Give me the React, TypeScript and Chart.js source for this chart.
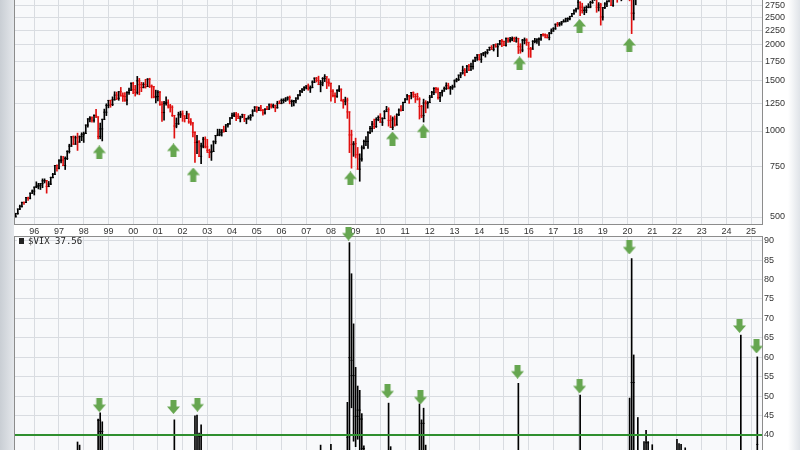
import React, { useEffect, useRef } from 'react';
import { Chart, registerables } from 'chart.js';

Chart.register(...registerables);

// ---------- DATA ----------
// S&P 500 monthly bars, first bar = April 1995
const priceStartYear = 1995;
const priceStartMonth = 3; // 0-based (April)
const priceFirstOpen = 500.7;

const priceHigh = [
  515, 533, 551, 564, 565, 586, 587, 608, 622,
  637, 664, 656, 656, 680, 680, 672, 666, 690, 711, 758, 761,
  794, 817, 815, 812, 853, 899, 957, 961, 960, 983, 961, 986,
  992, 1050, 1105, 1124, 1122, 1139, 1190, 1121, 1066, 1100, 1193, 1245,
  1280, 1282, 1317, 1372, 1368, 1374, 1421, 1360, 1362, 1373, 1414, 1474,
  1479, 1445, 1553, 1528, 1481, 1477, 1517, 1526, 1530, 1450, 1432, 1390,
  1384, 1376, 1268, 1269, 1316, 1286, 1240, 1226, 1134, 1111, 1164, 1173,
  1176, 1131, 1173, 1147, 1106, 1070, 994, 965, 925, 907, 951, 954,
  935, 864, 895, 924, 965, 1015, 1015, 1011, 1040, 1054, 1063, 1112,
  1155, 1159, 1163, 1151, 1128, 1146, 1141, 1109, 1131, 1143, 1188, 1218,
  1217, 1212, 1229, 1192, 1199, 1219, 1246, 1245, 1243, 1233, 1271, 1276,
  1295, 1297, 1310, 1318, 1326, 1284, 1280, 1307, 1340, 1389, 1407, 1431,
  1441, 1461, 1439, 1499, 1535, 1541, 1556, 1503, 1539, 1576, 1546, 1523,
  1471, 1396, 1359, 1397, 1441, 1404, 1292, 1314, 1305, 1167, 1007, 919,
  944, 876, 832, 888, 930, 956, 996, 1039, 1080, 1101, 1113, 1130,
  1150, 1113, 1180, 1220, 1206, 1132, 1120, 1130, 1149, 1196, 1228, 1263,
  1302, 1344, 1333, 1364, 1371, 1346, 1356, 1308, 1230, 1293, 1277, 1269,
  1333, 1378, 1419, 1422, 1415, 1364, 1392, 1426, 1475, 1470, 1434, 1448,
  1510, 1530, 1570, 1598, 1687, 1655, 1698, 1710, 1730, 1776, 1813, 1849,
  1851, 1867, 1884, 1898, 1925, 1968, 1991, 2005, 2019, 2018, 2076, 2094,
  2065, 2120, 2117, 2126, 2135, 2130, 2133, 2113, 2021, 2094, 2117, 2104,
  2038, 1963, 2073, 2111, 2103, 2121, 2178, 2194, 2187, 2170, 2214, 2278,
  2301, 2371, 2401, 2398, 2418, 2454, 2484, 2491, 2519, 2582, 2657, 2695,
  2873, 2835, 2801, 2718, 2742, 2791, 2848, 2916, 2941, 2940, 2815, 2800,
  2708, 2813, 2860, 2949, 2955, 2965, 3028, 3014, 3022, 3050, 3154, 3248,
  3337, 3394, 3136, 2955, 3068,
];

const priceLow = [
  500, 511, 530, 541, 553, 561, 572, 579, 605,
  597, 633, 627, 624, 633, 658, 606, 638, 649, 685, 703, 723,
  737, 773, 756, 733, 794, 837, 883, 897, 898, 855, 913, 925,
  912, 980, 1032, 1076, 1074, 1074, 1114, 939, 939, 923, 1096, 1132,
  1205, 1211, 1226, 1282, 1287, 1281, 1325, 1268, 1268, 1233, 1343, 1387,
  1350, 1325, 1346, 1339, 1373, 1415, 1413, 1430, 1419, 1305, 1306, 1254,
  1274, 1228, 1081, 1091, 1232, 1203, 1165, 1124, 944, 1026, 1054, 1114,
  1081, 1075, 1106, 1064, 1049, 953, 776, 833, 815, 768, 873, 872,
  840, 806, 789, 847, 902, 963, 962, 960, 990, 996, 1031, 1056,
  1105, 1122, 1087, 1107, 1076, 1114, 1078, 1060, 1100, 1090, 1128, 1173,
  1163, 1180, 1176, 1136, 1146, 1188, 1191, 1201, 1205, 1168, 1201, 1245,
  1245, 1253, 1268, 1281, 1245, 1219, 1224, 1253, 1290, 1327, 1361, 1385,
  1403, 1389, 1364, 1416, 1476, 1484, 1452, 1371, 1439, 1489, 1407, 1435,
  1271, 1317, 1257, 1311, 1373, 1272, 1201, 1234, 1107, 840, 741, 815,
  805, 735, 667, 784, 866, 889, 869, 978, 992, 1020, 1029, 1086,
  1071, 1045, 1105, 1170, 1040, 1028, 1011, 1040, 1049, 1132, 1174, 1186,
  1257, 1290, 1249, 1295, 1311, 1258, 1283, 1101, 1114, 1075, 1158, 1202,
  1258, 1312, 1341, 1358, 1292, 1267, 1325, 1378, 1397, 1403, 1343, 1398,
  1426, 1485, 1501, 1536, 1581, 1560, 1605, 1627, 1633, 1647, 1747, 1767,
  1770, 1737, 1834, 1814, 1860, 1915, 1930, 1905, 1965, 1821, 2001, 1973,
  1988, 1981, 2040, 2048, 2068, 2057, 2044, 1867, 1872, 1893, 2019, 1993,
  1812, 1810, 1937, 2034, 2025, 1992, 2075, 2148, 2119, 2114, 2084, 2188,
  2233, 2268, 2322, 2329, 2345, 2405, 2407, 2417, 2446, 2520, 2557, 2605,
  2682, 2533, 2586, 2553, 2594, 2698, 2699, 2796, 2864, 2603, 2631, 2347,
  2444, 2681, 2722, 2848, 2751, 2729, 2952, 2822, 2892, 2855, 3050, 3070,
  3214, 2855, 2192, 2447, 2766,
];

const priceClose = [
  514.7, 533.4, 544.8, 562.1, 561.9, 584.4, 581.5, 605.4, 615.9,
  636.0, 640.4, 645.5, 654.2, 669.1, 670.6, 639.9, 651.9, 687.3, 705.3, 757.0, 740.7,
  786.2, 790.8, 757.1, 801.3, 848.3, 885.1, 954.3, 899.5, 947.3, 914.6, 955.4, 970.4,
  980.3, 1049.3, 1101.8, 1111.8, 1090.8, 1133.8, 1120.7, 957.3, 1017.0, 1098.7, 1163.6, 1229.2,
  1279.6, 1238.3, 1286.4, 1335.2, 1301.8, 1372.7, 1328.7, 1320.4, 1282.7, 1362.9, 1388.9, 1469.3,
  1394.5, 1366.4, 1498.6, 1452.4, 1420.6, 1454.6, 1430.8, 1517.7, 1436.5, 1429.4, 1315.0, 1320.3,
  1366.0, 1239.9, 1160.3, 1249.5, 1255.8, 1224.4, 1211.2, 1133.6, 1040.9, 1059.8, 1139.5, 1148.1,
  1130.2, 1106.7, 1147.4, 1076.9, 1067.1, 989.8, 911.6, 916.1, 815.3, 885.8, 936.3, 879.8,
  855.7, 841.2, 848.2, 916.9, 963.6, 974.5, 990.3, 1008.0, 996.0, 1050.7, 1058.2, 1111.9,
  1131.1, 1144.9, 1126.2, 1107.3, 1120.7, 1140.8, 1101.7, 1104.2, 1114.6, 1130.2, 1173.8, 1211.9,
  1181.3, 1203.6, 1180.6, 1156.9, 1191.5, 1191.3, 1234.2, 1220.3, 1228.8, 1207.0, 1249.5, 1248.3,
  1280.1, 1280.7, 1294.9, 1310.6, 1270.1, 1270.2, 1276.7, 1303.8, 1335.9, 1377.9, 1400.6, 1418.3,
  1438.2, 1406.8, 1420.9, 1482.4, 1530.6, 1503.4, 1455.3, 1473.9, 1526.8, 1549.4, 1481.1, 1468.4,
  1378.6, 1330.6, 1322.7, 1385.6, 1400.4, 1280.0, 1267.4, 1282.8, 1166.4, 968.8, 896.2, 903.3,
  825.9, 735.1, 797.9, 872.8, 919.1, 919.3, 987.5, 1020.6, 1057.1, 1036.2, 1095.6, 1115.1,
  1073.9, 1104.5, 1169.4, 1186.7, 1089.4, 1030.7, 1101.6, 1049.3, 1141.2, 1183.3, 1180.6, 1257.6,
  1286.1, 1327.2, 1325.8, 1363.6, 1345.2, 1320.6, 1292.3, 1218.9, 1131.4, 1253.3, 1246.9, 1257.6,
  1312.4, 1365.7, 1408.5, 1397.9, 1310.3, 1362.2, 1379.3, 1406.6, 1440.7, 1412.2, 1416.2, 1426.2,
  1498.1, 1514.7, 1569.2, 1597.6, 1630.7, 1606.3, 1685.7, 1633.0, 1681.6, 1756.5, 1805.8, 1848.4,
  1782.6, 1859.5, 1872.3, 1883.9, 1923.6, 1960.2, 1930.7, 2003.4, 1972.3, 2018.1, 2067.6, 2058.9,
  1994.9, 2104.5, 2067.9, 2085.5, 2107.4, 2063.1, 2104.0, 1972.2, 1920.0, 2079.4, 2080.4, 2043.9,
  1940.2, 1932.2, 2059.7, 2065.3, 2096.9, 2098.9, 2173.6, 2170.9, 2168.3, 2126.2, 2199.0, 2238.8,
  2278.9, 2363.6, 2362.7, 2384.2, 2411.8, 2423.4, 2470.3, 2471.7, 2519.4, 2575.3, 2647.6, 2673.6,
  2823.8, 2713.8, 2640.9, 2648.1, 2705.3, 2718.4, 2816.3, 2901.5, 2913.9, 2711.7, 2760.2, 2506.9,
  2704.1, 2784.5, 2834.4, 2945.8, 2752.1, 2941.8, 2980.4, 2926.5, 2976.7, 3037.6, 3141.0, 3230.8,
  3225.5, 2954.2, 2584.6, 2912.4, 3044.3,
];

const priceTicks = [500, 750, 1000, 1250, 1500, 1750, 2000, 2250, 2500, 2750];

// $VIX monthly bars (the months that reach into the visible part of the panel)
const vixMonths = [
  '1997-10', '1997-11', '1998-08', '1998-09', '1998-10', '2001-09', '2002-07', '2002-08',
  '2002-09', '2002-10', '2007-08', '2008-01', '2008-09', '2008-10', '2008-11', '2008-12',
  '2009-01', '2009-02', '2009-03', '2009-04', '2009-05', '2010-05', '2010-06', '2011-08',
  '2011-09', '2011-10', '2011-11', '2015-08', '2018-02', '2020-02', '2020-03', '2020-04',
  '2020-06', '2020-09', '2020-10', '2020-11', '2021-01', '2022-01', '2022-02', '2022-03',
  '2022-05', '2024-08', '2025-04',
];
const vixOpen = [
  24.0, 31.0, 23.0, 43.8, 40.9, 25.0, 28.0, 32.0,
  33.4, 39.7, 23.5, 22.5, 20.7, 39.8, 59.2, 55.3,
  40.0, 44.8, 46.4, 44.1, 36.5, 22.0, 32.1, 25.3,
  31.6, 43.0, 30.0, 12.5, 13.5, 18.8, 40.1, 53.5,
  27.5, 26.4, 26.4, 38.0, 22.8, 17.2, 24.8, 30.2,
  33.4, 16.4, 22.3,
];
const vixHigh = [
  38.2, 37.4, 44.1, 45.7, 43.4, 43.9, 44.9, 45.1,
  40.5, 42.6, 37.4, 37.6, 48.4, 89.5, 81.5, 68.6,
  57.4, 52.6, 51.5, 45.5, 37.2, 48.2, 37.0, 48.0,
  43.9, 46.9, 37.4, 53.3, 50.3, 49.5, 85.4, 60.6,
  44.5, 38.3, 41.2, 38.3, 37.5, 38.9, 37.8, 37.6,
  36.7, 65.7, 60.1,
];
const vixLow = [
  18.5, 26.0, 19.5, 30.0, 26.0, 23.5, 24.5, 24.0,
  30.5, 29.5, 15.5, 20.5, 19.5, 31.7, 47.0, 38.4,
  37.0, 38.9, 36.0, 33.0, 27.5, 15.5, 23.0, 16.5,
  29.5, 24.5, 25.8, 11.8, 11.5, 13.4, 24.0, 30.0,
  25.8, 22.0, 24.0, 20.0, 20.5, 16.3, 19.4, 18.6,
  25.0, 14.8, 21.0,
];
const vixClose = [
  31.0, 27.9, 43.8, 40.9, 28.1, 31.9, 32.0, 33.4,
  39.7, 31.1, 23.4, 26.2, 39.4, 59.9, 55.3, 40.0,
  44.8, 46.4, 44.1, 36.5, 28.9, 32.1, 34.5, 31.6,
  43.0, 30.0, 27.8, 28.4, 19.9, 40.1, 53.5, 34.2,
  30.4, 26.4, 38.0, 20.6, 33.1, 24.8, 30.2, 20.6,
  25.7, 15.0, 37.56,
];
const vixTicks = [30, 35, 40, 45, 50, 55, 60, 65, 70, 75, 80, 85, 90];
const vixThreshold = 40;
const vixLabel = '$VIX 37.56';

const yearTicks = [
  1996, 1997, 1998, 1999, 2000, 2001, 2002, 2003, 2004, 2005, 2006, 2007, 2008, 2009, 2010,
  2011, 2012, 2013, 2014, 2015, 2016, 2017, 2018, 2019, 2020, 2021, 2022, 2023, 2024, 2025,
];

// Green annotation arrows (date in years, value on the panel's scale)
const upArrowDates = [1998.63, 2001.63, 2002.43, 2008.79, 2010.49, 2011.74, 2015.63, 2018.06, 2020.07];
const upArrowValues = [841, 855, 704, 682, 941, 996, 1723, 2331, 2000];
const downArrowDates = [1998.63, 2001.63, 2002.6, 2008.71, 2010.29, 2011.62, 2015.55, 2018.06, 2020.07, 2024.53, 2025.22];
const downArrowValues = [47.7, 47.2, 47.8, 91.85, 51.2, 49.65, 56.3, 52.5, 88.25, 68.05, 62.8];

// ---------- STYLE ----------
const X_MIN = 1995.22;
const X_MAX = 2025.44;
const PLOT_BG = '#f8f9fb';
const GRID = '#d9dce1';
const BORDER = '#8c8c8c';
const TEXT = '#333333';
const UP = '#000000';
const DOWN = '#e01010';
const ARROW = '#66a650';
const FONT = { family: 'Liberation Sans, Arial, sans-serif', size: 9 };

function makeArrow(up: boolean): HTMLCanvasElement {
  const c = document.createElement('canvas');
  c.width = 13;
  c.height = 14;
  const g = c.getContext('2d')!;
  g.fillStyle = ARROW;
  g.beginPath();
  if (up) {
    g.moveTo(6.5, 0); g.lineTo(13, 7.5); g.lineTo(9.5, 7.5); g.lineTo(9.5, 14);
    g.lineTo(3.5, 14); g.lineTo(3.5, 7.5); g.lineTo(0, 7.5);
  } else {
    g.moveTo(6.5, 14); g.lineTo(13, 6.5); g.lineTo(9.5, 6.5); g.lineTo(9.5, 0);
    g.lineTo(3.5, 0); g.lineTo(3.5, 6.5); g.lineTo(0, 6.5);
  }
  g.closePath();
  g.fill();
  return c;
}

const panelPlugin = {
  id: 'panelFrame',
  beforeDraw(chart: any) {
    const { ctx, chartArea: a } = chart;
    ctx.save();
    ctx.fillStyle = PLOT_BG;
    ctx.fillRect(a.left, a.top, a.right - a.left, a.bottom - a.top);
    ctx.restore();
  },
  beforeDatasetsDraw(chart: any) {
    const { ctx, chartArea: a } = chart;
    ctx.save();
    ctx.strokeStyle = BORDER;
    ctx.lineWidth = 1;
    ctx.strokeRect(a.left - 0.5, a.top - 0.5, a.right - a.left + 1, a.bottom - a.top + 1);
    ctx.restore();
  },
};

function monthToX(s: string): number {
  const [y, m] = s.split('-').map(Number);
  return y + (m - 1) / 12;
}

function xScale(showLabels: boolean) {
  return {
    type: 'linear',
    min: X_MIN,
    max: X_MAX,
    offset: false,
    afterBuildTicks: (s: any) => {
      s.ticks = yearTicks.map((v) => ({ value: v }));
    },
    afterFit: (s: any) => {
      s.height = showLabels ? 13 : 0;
    },
    grid: { color: GRID, drawTicks: false, offset: false },
    border: { display: false },
    ticks: {
      display: showLabels,
      autoSkip: false,
      maxRotation: 0,
      padding: 2,
      font: FONT,
      color: TEXT,
      callback: (v: any) => String(Math.round(v) % 100).padStart(2, '0'),
    },
  };
}

export default function App() {
  const topRef = useRef<HTMLCanvasElement>(null);
  const botRef = useRef<HTMLCanvasElement>(null);

  useEffect(() => {
    // ----- price panel -----
    const px = priceHigh.map((_, i) => priceStartYear + (priceStartMonth + i) / 12);
    const opens = priceClose.map((_, i) => (i === 0 ? priceFirstOpen : priceClose[i - 1]));
    const colors = priceClose.map((c, i) => (c >= opens[i] ? UP : DOWN));
    const upArrow = makeArrow(true);
    const downArrow = makeArrow(false);

    const top = new Chart(topRef.current!, {
      type: 'bar',
      data: {
        datasets: [
          {
            type: 'scatter',
            data: upArrowDates.map((d, i) => ({ x: d, y: upArrowValues[i] })),
            pointStyle: upArrow as any,
            pointRadius: 9,
            clip: false as any,
            order: 0,
          } as any,
          {
            type: 'scatter',
            data: px.map((x, i) => ({ x, y: opens[i] })),
            pointStyle: 'line',
            pointRadius: 1,
            pointBorderWidth: 1,
            pointBorderColor: colors,
            order: 1,
          } as any,
          {
            type: 'scatter',
            data: px.map((x, i) => ({ x, y: priceClose[i] })),
            pointStyle: 'line',
            pointRadius: 1,
            pointBorderWidth: 1,
            pointBorderColor: colors,
            order: 1,
          } as any,
          {
            type: 'bar',
            data: px.map((x, i) => ({ x, y: [priceLow[i], priceHigh[i]] })),
            backgroundColor: colors,
            borderWidth: 0,
            barThickness: 1,
            order: 2,
          } as any,
        ],
      },
      options: {
        animation: false,
        responsive: false,
        events: [],
        layout: { padding: { left: 15, right: 15, top: 10, bottom: 0 }, autoPadding: false } as any,
        plugins: { legend: { display: false }, tooltip: { enabled: false } },
        scales: {
          x: xScale(true) as any,
          y: {
            type: 'logarithmic',
            position: 'right',
            min: 472.6,
            max: 3377,
            afterBuildTicks: (s: any) => {
              s.ticks = priceTicks.map((v) => ({ value: v }));
            },
            afterFit: (s: any) => {
              s.width = 23;
            },
            grid: { color: GRID, drawTicks: false },
            border: { display: false },
            ticks: {
              crossAlign: 'far',
              padding: 3,
              font: FONT,
              color: TEXT,
              callback: (v: any) => String(v),
            },
          } as any,
        },
      },
      plugins: [panelPlugin],
    });

    // ----- VIX panel -----
    const vx = vixMonths.map(monthToX);
    const bottom = new Chart(botRef.current!, {
      type: 'bar',
      data: {
        datasets: [
          {
            type: 'scatter',
            data: downArrowDates.map((d, i) => ({ x: d, y: downArrowValues[i] })),
            pointStyle: downArrow as any,
            pointRadius: 9,
            clip: false as any,
            order: 0,
          } as any,
          {
            type: 'line',
            data: [
              { x: X_MIN, y: vixThreshold },
              { x: X_MAX, y: vixThreshold },
            ],
            borderColor: '#2f8f2f',
            borderWidth: 2,
            pointRadius: 0,
            order: 1,
          } as any,
          {
            type: 'scatter',
            data: vx.map((x, i) => ({ x, y: vixOpen[i] })),
            pointStyle: 'line',
            pointRadius: 1,
            pointBorderWidth: 1,
            pointBorderColor: UP,
            order: 2,
          } as any,
          {
            type: 'scatter',
            data: vx.map((x, i) => ({ x, y: vixClose[i] })),
            pointStyle: 'line',
            pointRadius: 1,
            pointBorderWidth: 1,
            pointBorderColor: UP,
            order: 2,
          } as any,
          {
            type: 'bar',
            data: vx.map((x, i) => ({ x, y: [vixLow[i], vixHigh[i]] })),
            backgroundColor: UP,
            borderWidth: 0,
            barThickness: 1,
            order: 3,
          } as any,
        ],
      },
      options: {
        animation: false,
        responsive: false,
        events: [],
        layout: { padding: { left: 15, right: 15, top: 17, bottom: 10 }, autoPadding: false } as any,
        plugins: { legend: { display: false }, tooltip: { enabled: false } },
        scales: {
          x: xScale(false) as any,
          y: {
            type: 'linear',
            position: 'right',
            min: 29.19,
            max: 90.95,
            afterBuildTicks: (s: any) => {
              s.ticks = vixTicks.map((v) => ({ value: v }));
            },
            afterFit: (s: any) => {
              s.width = 23;
            },
            grid: { color: GRID, drawTicks: false },
            border: { display: false },
            ticks: {
              crossAlign: 'near',
              padding: 2,
              font: FONT,
              color: TEXT,
              callback: (v: any) => String(v),
            },
          } as any,
        },
      },
      plugins: [panelPlugin],
    });

    return () => {
      top.destroy();
      bottom.destroy();
    };
  }, []);

  return (
    <div
      style={{
        position: 'fixed',
        left: 0,
        top: 0,
        width: 800,
        height: 450,
        overflow: 'hidden',
        background: '#ffffff',
      }}
    >
      <div
        style={{
          position: 'absolute',
          left: 0,
          top: 0,
          width: 14,
          height: 450,
          background: 'linear-gradient(to right, #c9ced4, #e4e7eb)',
        }}
      />
      <div
        style={{
          position: 'absolute',
          right: 0,
          top: 0,
          width: 12,
          height: 450,
          background: 'linear-gradient(to right, #ffffff, #dfe3e8)',
        }}
      />
      <canvas
        ref={topRef}
        width={800}
        height={267}
        style={{ position: 'absolute', left: 0, top: -30, display: 'block' }}
      />
      <canvas
        ref={botRef}
        width={800}
        height={267}
        style={{ position: 'absolute', left: 0, top: 220, display: 'block' }}
      />
      <div
        style={{
          position: 'absolute',
          left: 17,
          top: 236,
          height: 10,
          display: 'flex',
          alignItems: 'center',
          font: '9px "DejaVu Sans Mono", monospace',
          color: '#222',
          whiteSpace: 'pre',
        }}
      >
        <span
          style={{
            display: 'inline-block',
            width: 7,
            height: 6,
            background: '#222',
            marginRight: 4,
            boxShadow: 'inset 2px 0 0 #fff',
          }}
        />
        {vixLabel}
      </div>
    </div>
  );
}
